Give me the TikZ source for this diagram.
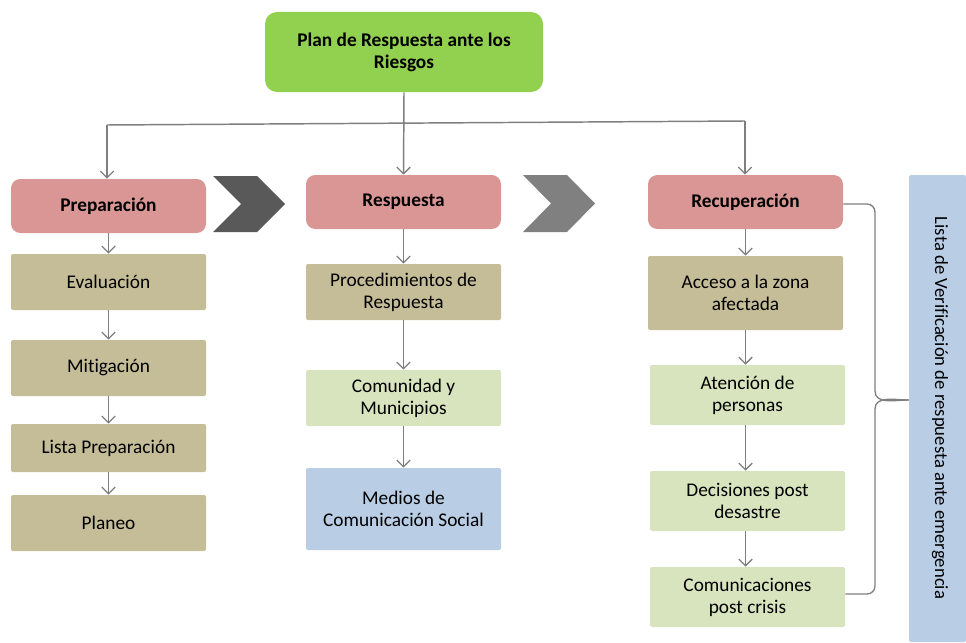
\documentclass[tikz,border=0pt]{standalone}
\usepackage{fontspec}
\setmainfont[Ligatures=NoCommon]{Carlito}
\usetikzlibrary{arrows.meta}
\definecolor{plangreen}{HTML}{92D050}
\definecolor{phasepink}{HTML}{D99694}
\definecolor{tanbox}{HTML}{C4BD97}
\definecolor{palegreen}{HTML}{D7E4BD}
\definecolor{paleblue}{HTML}{B9CDE5}
\definecolor{linegray}{HTML}{7F7F7F}
\definecolor{chevdark}{HTML}{595959}
\definecolor{chevlight}{HTML}{808080}
\tikzset{
  box/.style={inner sep=2pt, align=center, font=\fontsize{14.5}{16.5}\selectfont, text=black},
  planbox/.style={box, fill=plangreen, rounded corners=9pt, font=\fontsize{14.5}{16.5}\selectfont\bfseries},
  phasebox/.style={box, fill=phasepink, rounded corners=7pt, font=\fontsize{14.5}{16.5}\selectfont\bfseries},
  tanstep/.style={box, fill=tanbox, rounded corners=1.5pt},
  greenstep/.style={box, fill=palegreen, rounded corners=1.5pt},
  bluestep/.style={box, fill=paleblue, rounded corners=1.5pt},
  conn/.style={draw=linegray, line width=1.1pt},
  arr/.style={conn, -{Straight Barb[length=5pt,width=10pt,line width=1pt]}},
}
% place a box by its corner coordinates (in px units)
\newcommand{\pbox}[7]{%
  \node[#1, minimum width={(#5-#3)*0.75pt}, minimum height={(#6-#4)*0.75pt}]
    (#2) at ({(#3+#5)/2},{(#4+#6)/2}) {#7};}
\begin{document}
\begin{tikzpicture}[x=0.75pt,y=-0.75pt]
\useasboundingbox (0,0) rectangle (966,642);

% top node
\pbox{planbox}{plan}{265}{12}{543}{92}{Plan de Respuesta ante los\\Riesgos}

% phases
\pbox{phasebox}{prep}{11}{179}{206}{233}{Preparación}
\pbox{phasebox}{resp}{306}{175}{501}{229}{Respuesta}
\pbox{phasebox}{rec}{648}{175}{843}{229}{Recuperación}

% chevrons between phases
\fill[chevdark] (213,176) -- (257,176) -- (285,204) -- (257,232) -- (213,232) -- (241,204) -- cycle;
\fill[chevlight] (523,175) -- (567,175) -- (595,203.5) -- (567,232) -- (523,232) -- (551,203.5) -- cycle;

% left column
\pbox{tanstep}{eval}{11}{254}{206}{310}{Evaluación}
\pbox{tanstep}{miti}{11}{340}{206}{396}{Mitigación}
\pbox{tanstep}{lista}{11}{424}{206}{472}{Lista Preparación}
\pbox{tanstep}{plane}{11}{495}{206}{551}{Planeo}

% middle column
\pbox{tanstep}{proc}{306}{264}{501}{320}{Procedimientos de\\Respuesta}
\pbox{greenstep}{comu}{306}{370}{501}{426}{Comunidad y\\Municipios}
\pbox{bluestep}{medios}{306}{468}{501}{550}{Medios de\\Comunicación Social}

% right column
\pbox{tanstep}{acc}{648}{256}{843}{330}{Acceso a la zona\\afectada}
\pbox{greenstep}{aten}{650}{365}{845}{425}{Atención de\\personas}
\pbox{greenstep}{deci}{650}{471}{845}{531}{Decisiones post\\desastre}
\pbox{greenstep}{comc}{650}{567}{845}{627}{Comunicaciones\\post crisis}

% side bar
\pbox{bluestep}{bar}{909}{175}{966}{642}{}
\node[box, rotate=-90, font=\fontsize{14}{16}\selectfont] (bartxt) at (940,408) {Lista de Verificación de respuesta ante emergencia};

% connectors from the plan
\coordinate (hl) at (107,125);
\coordinate (hr) at (745,121);
\draw[conn] (hl) -- (hr);
\draw[arr] (plan.south) -- (resp.north);
\draw[arr] (hl) -- (hl |- prep.north);
\draw[arr] (hr) -- (hr |- rec.north);

% left chain
\draw[arr] (prep.south) -- (eval.north);
\draw[arr] (eval.south) -- (miti.north);
\draw[arr] (miti.south) -- (lista.north);
\draw[arr] (lista.south) -- (plane.north);

% middle chain
\draw[arr] (resp.south) -- (proc.north);
\draw[arr] (proc.south) -- (comu.north);
\draw[arr] (comu.south) -- (medios.north);

% right chain
\draw[arr] (rec.south) -- (acc.north);
\draw[arr] (acc.south) -- (acc.south |- aten.north);
\draw[arr] (acc.south |- aten.south) -- (acc.south |- deci.north);
\draw[arr] (acc.south |- deci.south) -- (acc.south |- comc.north);

% brace grouping the recovery column
\coordinate (btop) at (rec.east |- 0,204);
\coordinate (bbot) at (comc.east |- 0,594);
\coordinate (btip) at (bar.west |- 0,400);
\draw[conn, line width=1pt] (btop) -- (867,204) to[out=0,in=90] (875,212) -- (875,391)
  to[out=-90,in=180] (btip);
\draw[conn, line width=1pt] (btip) to[out=180,in=90] (875,409) -- (875,586)
  to[out=-90,in=0] (867,594) -- (bbot);
\end{tikzpicture}
\end{document}
